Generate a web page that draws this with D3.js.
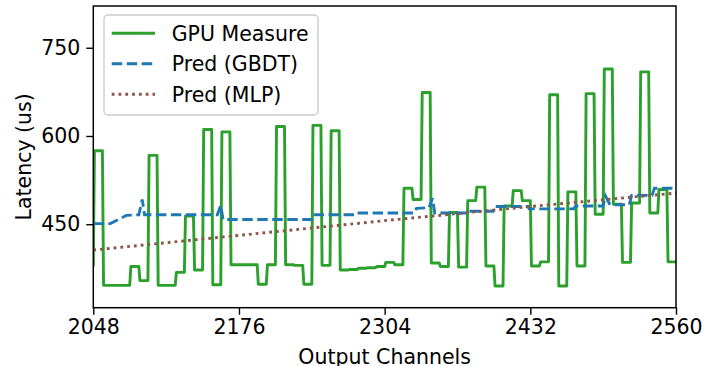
<!DOCTYPE html>
<html>
<head>
<meta charset="utf-8">
<script src="https://cdn.jsdelivr.net/npm/d3@7"></script>
<style>
  body { margin: 0; background: #fff; }
  text { font-family: "DejaVu Sans", sans-serif; }
</style>
</head>
<body>
<div id="chart"></div>
<script>
// --- Données
const xTicks = [2048, 2176, 2304, 2432, 2560];
const yTicks = [450, 600, 750];

// GPU : première mesure (canal 2048), puis un palier par bloc de 8 canaux (2049..2056, 2057..2064, ...)
const gpuFirst = [2048, 378];
const gpuBlocks = [
  575, 346, 346, 346, 378, 354, 567, 346,
  346, 368, 464, 372, 611, 347, 607, 381,
  381, 381, 348, 381, 616, 381, 380, 348,
  618, 380, 609, 372, 373, 375, 376, 378,
  385, 381, 511, 492, 674, 384, 378, 470,
  377, 490, 513, 379, 345, 481, 507, 490,
  379, 386, 670, 345, 505, 379, 672, 467,
  714, 484, 385, 486, 709, 469, 509, 386
];

// Prédiction GBDT (canal, latence)
const gbdtPoints = [
  [2048, 451], [2063, 451], [2077, 465], [2088, 466], [2091, 492], [2093, 466],
  [2157, 466], [2160, 482], [2162, 458], [2240, 458], [2241, 466], [2279, 466],
  [2280, 469], [2330, 469], [2332, 477], [2343, 478], [2346, 494], [2348, 469],
  [2376, 469], [2377, 472], [2399, 472], [2400, 480], [2430, 480], [2431, 476],
  [2470, 476], [2472, 481], [2496, 481], [2498, 498], [2502, 483], [2519, 483],
  [2521, 499], [2539, 499], [2541, 511], [2560, 511]
];

// Prédiction MLP (canal, latence)
const mlpPoints = [[2048, 406], [2176, 431], [2304, 456], [2432, 480], [2560, 503]];

const legendItems = [
  { label: "GPU Measure", color: "#2ca02c", dash: null },
  { label: "Pred (GBDT)", color: "#1f77b4", dash: "10.5,4.5" },
  { label: "Pred (MLP)", color: "#8c564b", dash: "2.8,4" }
];

// --- Mise en page
const width = 704, height = 366;
const margin = { left: 93.3, right: 28, top: 6, bottom: 58.3 };
const lw = 2.9;
const fontSize = 20.5;

const svg = d3.select("#chart").append("svg")
  .attr("width", width)
  .attr("height", height);

const x = d3.scaleLinear().domain([2048, 2560]).range([margin.left, width - margin.right]);
const y = d3.scaleLinear().domain([308, 821]).range([height - margin.bottom, margin.top]);

svg.append("defs").append("clipPath").attr("id", "plot-clip")
  .append("rect")
  .attr("x", x.range()[0]).attr("y", y.range()[1])
  .attr("width", x.range()[1] - x.range()[0])
  .attr("height", y.range()[0] - y.range()[1]);

// Série GPU en paliers
const gpuPoints = [gpuFirst];
gpuBlocks.forEach((v, k) => {
  gpuPoints.push([2049 + 8 * k, v]);
  gpuPoints.push([2056 + 8 * k, v]);
});

const line = d3.line().x(d => x(d[0])).y(d => y(d[1]));
const plot = svg.append("g").attr("clip-path", "url(#plot-clip)");

plot.append("path").datum(gpuPoints)
  .attr("d", line).attr("fill", "none")
  .attr("stroke", legendItems[0].color).attr("stroke-width", lw)
  .attr("stroke-linejoin", "round");

plot.append("path").datum(gbdtPoints)
  .attr("d", line).attr("fill", "none")
  .attr("stroke", legendItems[1].color).attr("stroke-width", lw)
  .attr("stroke-dasharray", legendItems[1].dash);

plot.append("path").datum(mlpPoints)
  .attr("d", line).attr("fill", "none")
  .attr("stroke", legendItems[2].color).attr("stroke-width", lw)
  .attr("stroke-dasharray", legendItems[2].dash);

// --- Axes
const xAxis = svg.append("g")
  .attr("transform", `translate(0,${y.range()[0]})`)
  .call(d3.axisBottom(x).tickValues(xTicks).tickFormat(d3.format("d")).tickSizeOuter(0).tickSize(7).tickPadding(5));

const yAxis = svg.append("g")
  .attr("transform", `translate(${x.range()[0]},0)`)
  .call(d3.axisLeft(y).tickValues(yTicks).tickSizeOuter(0).tickSize(7).tickPadding(6));

[xAxis, yAxis].forEach(g => {
  g.select(".domain").remove();
  g.selectAll(".tick line").attr("stroke", "#000").attr("stroke-width", 1.4);
  g.selectAll(".tick text").attr("font-size", fontSize).attr("fill", "#000")
    .attr("font-family", "DejaVu Sans");
});

// Cadre
svg.append("rect")
  .attr("x", x.range()[0]).attr("y", y.range()[1])
  .attr("width", x.range()[1] - x.range()[0])
  .attr("height", y.range()[0] - y.range()[1])
  .attr("fill", "none").attr("stroke", "#000").attr("stroke-width", 1.5);

// Titres d'axes
svg.append("text")
  .attr("x", (x.range()[0] + x.range()[1]) / 2)
  .attr("y", 364)
  .attr("text-anchor", "middle")
  .attr("font-size", fontSize)
  .text("Output Channels");

svg.append("text")
  .attr("transform", `translate(31,${(y.range()[0] + y.range()[1]) / 2}) rotate(-90)`)
  .attr("text-anchor", "middle")
  .attr("font-size", fontSize)
  .text("Latency (us)");

// --- Légende
const legend = svg.append("g");
legend.append("rect")
  .attr("x", 104).attr("y", 15).attr("width", 214).attr("height", 100)
  .attr("rx", 4)
  .attr("fill", "#fff").attr("fill-opacity", 0.8)
  .attr("stroke", "#cccccc").attr("stroke-width", 1.4);

legendItems.forEach((d, i) => {
  const cy = 33.3 + i * 30.5;
  legend.append("line")
    .attr("x1", 111.7).attr("x2", 155).attr("y1", cy).attr("y2", cy)
    .attr("stroke", d.color).attr("stroke-width", lw)
    .attr("stroke-dasharray", d.dash);
  legend.append("text")
    .attr("x", 171.7).attr("y", cy + 7.3)
    .attr("font-size", fontSize)
    .text(d.label);
});
</script>
</body>
</html>
